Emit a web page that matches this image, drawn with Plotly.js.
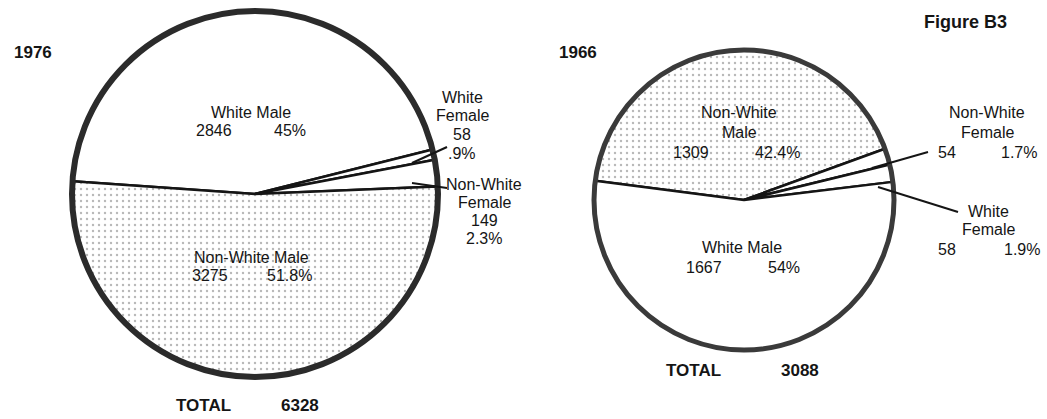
<!DOCTYPE html>
<html><head><meta charset="utf-8">
<script src="https://cdn.plot.ly/plotly-3.0.1.min.js"></script>
<style>html,body{margin:0;padding:0;background:#fff}#chart{width:1047px;height:419px}</style>
</head><body><div id="chart"></div>
<script>
// ---- data: 1976 ----
const labels1976 = ['White Male', 'White Female', 'Non-White Female', 'Non-White Male'];
const values1976 = [2846, 58, 149, 3275];
const pct1976 = ['45%', '.9%', '2.3%', '51.8%'];
const total1976 = 6328;
// ---- data: 1966 ----
const labels1966 = ['Non-White Male', 'Non-White Female', 'White Female', 'White Male'];
const values1966 = [1309, 54, 58, 1667];
const pct1966 = ['42.4%', '1.7%', '1.9%', '54%'];
const total1966 = 3088;
const yearLabels = ['1976', '1966'];
const figureTitle = 'Figure B3';
const totalWord = 'TOTAL';

// ---- layout helpers ----
const W = 1047, H = 419;
const X = p => p / W, Y = p => 1 - p / H;
const FONT = '"Liberation Sans", Arial, Helvetica, sans-serif';
const INK = '#151515';
const split = s => s.split(' ');

function ann(text, x, y, opts) {
  return Object.assign({
    text: String(text), x: X(x), y: Y(y), xref: 'paper', yref: 'paper',
    showarrow: false, xanchor: 'center', yanchor: 'middle',
    font: {family: FONT, size: 16, color: INK}
  }, opts || {});
}
function stack(lines, x, y0, dy) {
  return lines.map((t, i) => ann(t, x, y0 + i * dy));
}
function bold(text, x, y, size) {
  return ann('<b>' + text + '</b>', x, y, {xanchor: 'left', font: {family: FONT, size: size, color: INK}});
}
function domainFor(cx, cy, r) {
  return {x: [X(cx - r), X(cx + r)], y: [Y(cy + r), Y(cy - r)]};
}
function leader(x0, y0, x1, y1) {
  return {type: 'line', xref: 'paper', yref: 'paper', x0: X(x0), y0: Y(y0), x1: X(x1), y1: Y(y1),
          line: {color: INK, width: 2}};
}
function ring(cx, cy, r, w, c) {
  return {type: 'circle', xref: 'paper', yref: 'paper', x0: X(cx - r), x1: X(cx + r), y0: Y(cy + r), y1: Y(cy - r),
          line: {color: c, width: w}, fillcolor: 'rgba(0,0,0,0)', layer: 'above'};
}

const P1 = {cx: 255, cy: 194, r: 183};
const P2 = {cx: 744, cy: 200, r: 150};

function stipple(lbls) {
  return lbls.map(l => l === 'Non-White Male' ? '.' : '');
}
function pieTrace(lbls, vals, rot, P) {
  return {
    type: 'pie', labels: lbls, values: vals, sort: false, direction: 'clockwise',
    rotation: rot, textinfo: 'none', hoverinfo: 'skip', domain: domainFor(P.cx, P.cy, P.r),
    marker: {colors: lbls.map(() => '#ffffff'), line: {color: INK, width: 2.5},
             pattern: {shape: stipple(lbls), fgcolor: '#b8b8b8', bgcolor: '#ffffff', size: 6, solidity: 0.12}}
  };
}

const trace1976 = pieTrace(labels1976, values1976, -86, P1);
const trace1966 = pieTrace(labels1966, values1966, -82.6, P2);

const annotations = [].concat(
  // 1976 pie
  [ann(labels1976[0], 251, 112), ann(values1976[0], 214, 131), ann(pct1976[0], 290, 131),
   ann(labels1976[3], 251, 257), ann(values1976[3], 210, 275), ann(pct1976[3], 289, 275)],
  stack(split(labels1976[1]).concat([values1976[1], pct1976[1]]), 462, 97, 18.7),
  stack(split(labels1976[2]).concat([values1976[2], pct1976[2]]), 484, 185, 17.7),
  // 1966 pie
  stack(split(labels1966[0]), 739, 113, 19),
  [ann(values1966[0], 691, 152), ann(pct1966[0], 777, 152),
   ann(labels1966[3], 742, 248), ann(values1966[3], 704, 267), ann(pct1966[3], 784, 267)],
  stack(split(labels1966[1]), 987, 113, 19),
  [ann(values1966[1], 947, 152), ann(pct1966[1], 1019, 152)],
  stack(split(labels1966[2]), 988, 212, 18),
  [ann(values1966[2], 947, 250), ann(pct1966[2], 1022, 250)],
  // titles & totals
  [bold(yearLabels[0], 12, 52, 17), bold(yearLabels[1], 557, 52, 17),
   bold(figureTitle, 922, 22, 18),
   bold(totalWord, 174, 405, 17), bold(total1976, 279, 405, 17),
   bold(totalWord, 664, 370, 17), bold(total1966, 779, 370, 17)]
);

const shapes = [
  ring(P1.cx, P1.cy, P1.r, 6, '#2b2b2b'),
  ring(P2.cx, P2.cy, P2.r, 5, '#3a3a3a'),
  leader(447, 147, 412, 163), leader(447, 188, 412, 183),
  leader(928, 152, 872, 168), leader(958, 212, 878, 187)
];

Plotly.newPlot('chart', [trace1976, trace1966], {
  width: W, height: H, margin: {l: 0, r: 0, t: 0, b: 0},
  paper_bgcolor: '#ffffff', plot_bgcolor: '#ffffff', showlegend: false,
  annotations: annotations, shapes: shapes
}, {displayModeBar: false, staticPlot: true});
</script>
</body></html>
